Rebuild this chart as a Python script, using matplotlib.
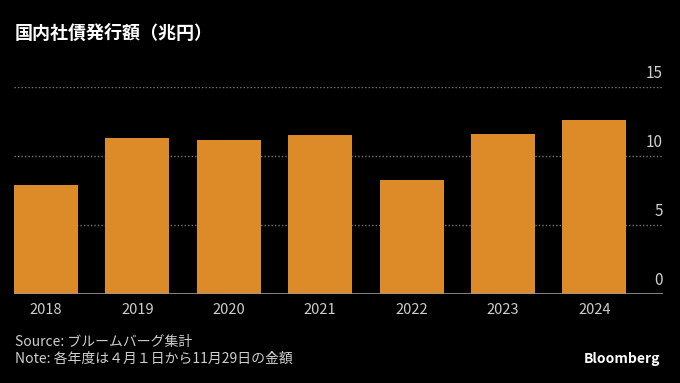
import matplotlib
matplotlib.use("Agg")
import matplotlib.pyplot as plt
import matplotlib.transforms as mtransforms

plt.rcParams['font.family'] = ['Noto Sans CJK JP', 'DejaVu Sans']

# データ（兆円）
years = ['2018', '2019', '2020', '2021', '2022', '2023', '2024']
values = [7.9, 11.3, 11.1, 11.5, 8.2, 11.6, 12.6]
yticks = [0, 5, 10, 15]

title = '国内社債発行額（兆円）'
source = 'Source: ブルームバーグ集計'
note = 'Note: 各年度は４月１日から11月29日の金額'

bg = '#000000'
bar_color = '#DD8A28'
grid_color = '#777777'
text_color = '#cfcfcf'

fig = plt.figure(figsize=(6.8, 3.83), dpi=100, facecolor=bg)
ax = fig.add_axes([14/680, 1-293.5/383, 649/680, (293.5-86.7)/383])
ax.set_facecolor(bg)

x = range(len(years))
ax.bar(x, values, width=0.70, color=bar_color, zorder=3)

ax.set_xlim(-0.35, 6.75)
ax.set_ylim(0, 15)

# 点線グリッド＋右寄せの目盛りラベル（線の少し上）
trans = mtransforms.blended_transform_factory(ax.transAxes, ax.transData)
trans = mtransforms.offset_copy(trans, fig=fig, x=0, y=3.5, units='points')
for v in yticks:
    if v > 0:
        ax.axhline(v, color=grid_color, lw=1, ls=(0, (1, 1.5)), zorder=1)
    ax.text(1.0, v, str(v), transform=trans, ha='right', va='bottom',
            fontsize=11, color=text_color, clip_on=False)

ax.axhline(0, color='#9a9a9a', lw=1.2, zorder=4)

ax.set_yticks([])
ax.set_xticks(list(x))
ax.set_xticklabels(years, fontsize=10.5, color=text_color)
ax.tick_params(axis='x', length=0, pad=6.5)
for s in ax.spines.values():
    s.set_visible(False)

fig.text(15/680, 1-24/383, title, fontsize=13, fontweight='bold',
         color='white', ha='left', va='top')
fig.text(15/680, 1-342/383, source, fontsize=10, color=text_color,
         ha='left', va='center')
fig.text(15/680, 1-359/383, note, fontsize=10, color=text_color,
         ha='left', va='center')
fig.text(660/680, 1-359/383, 'Bloomberg', fontsize=10, fontweight='bold',
         color='white', ha='right', va='center')

fig.savefig('out.png', dpi=100, facecolor=bg)
